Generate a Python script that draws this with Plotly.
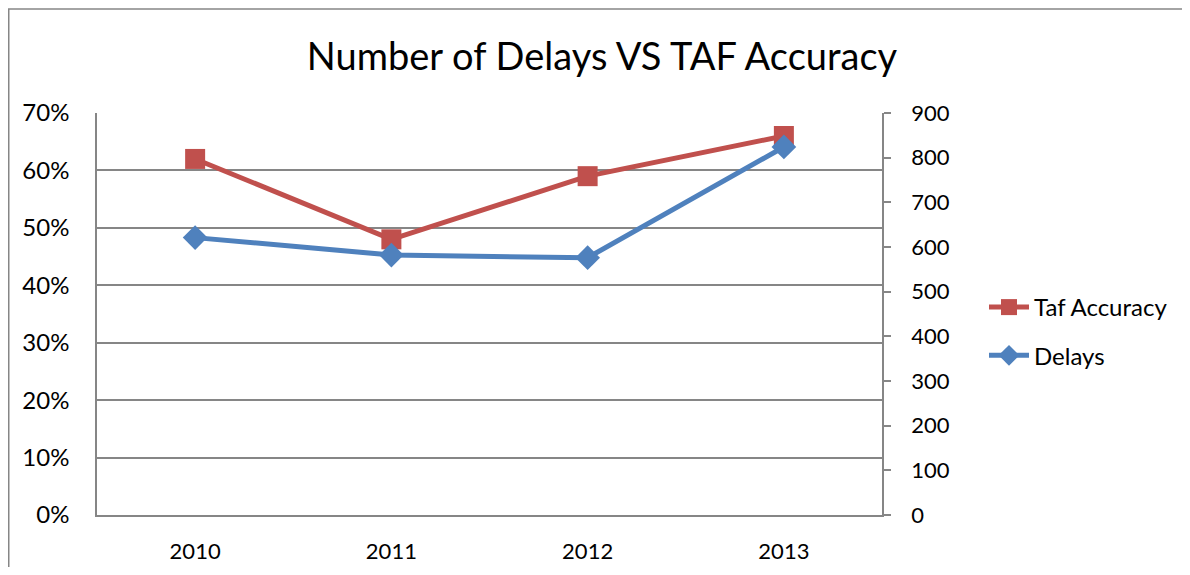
import plotly.graph_objects as go

years = ["2010", "2011", "2012", "2013"]
taf_accuracy = [0.62, 0.48, 0.59, 0.66]
delays = [621, 582, 576, 824]

title_text = "Number of Delays VS TAF Accuracy"
series_names = ["Taf Accuracy", "Delays"]

RED = "#C0504D"
BLUE = "#4F81BD"
GRAY = "#868686"
FONT = "Lato, 'Open Sans', sans-serif"

# the page body adds an 8px margin; figure coordinates below are page minus 8
W, H = 1174, 559
L, R, T, B = 89, 300, 105, 52
pw, ph = W - L - R, H - T - B

fig = go.Figure()
fig.add_trace(go.Scatter(
    x=years, y=taf_accuracy, name=series_names[0], mode="lines+markers",
    line=dict(color=RED, width=5),
    marker=dict(symbol="square", size=20, color=RED),
    yaxis="y", legendgroup="a",
))
fig.add_trace(go.Scatter(
    x=years, y=delays, name=series_names[1], mode="lines+markers",
    line=dict(color=BLUE, width=5),
    marker=dict(symbol="diamond", size=19, color=BLUE),
    yaxis="y2", legendgroup="b",
))

def px_x(px):
    return (px - L) / pw

def px_y(py):
    return (H - B - py) / ph

fig.update_layout(
    width=W, height=H,
    margin=dict(l=L, r=R, t=T, b=B, autoexpand=False),
    paper_bgcolor="white", plot_bgcolor="white",
    font=dict(family=FONT, size=22, color="black"),
    title=dict(text=title_text, font=dict(size=38, family=FONT, color="black"),
               x=594 / W, xref="container", xanchor="center",
               y=1 - 49 / H, yref="container", yanchor="middle"),
    xaxis=dict(type="category", range=[-0.5, 3.5], showgrid=False,
               showline=True, linecolor=GRAY, linewidth=1.5,
               ticks="", ticklabelstandoff=16, zeroline=False),
    yaxis=dict(range=[0, 0.7], dtick=0.1, tickformat=".0%",
               tickfont=dict(size=24),
               showgrid=True, gridcolor=GRAY, gridwidth=1.5,
               showline=True, linecolor=GRAY, linewidth=1.5,
               ticks="", ticklabelstandoff=21, zeroline=False),
    yaxis2=dict(range=[0, 900], dtick=100, overlaying="y", side="right",
                showgrid=False, showline=True, linecolor=GRAY, linewidth=1.5,
                ticks="outside", ticklen=7, tickcolor=GRAY, tickwidth=1.5,
                ticklabelstandoff=16, zeroline=False),
    legend=dict(x=px_x(976), xanchor="left", y=px_y(277), yanchor="top",
                tracegroupgap=14, font=dict(size=24), bgcolor="rgba(0,0,0,0)",
                itemwidth=40),
    showlegend=True,
    shapes=[
        dict(type="line", xref="paper", yref="paper",
             x0=px_x(0), x1=px_x(W), y0=px_y(1), y1=px_y(1),
             line=dict(color=GRAY, width=1.5)),
        dict(type="line", xref="paper", yref="paper",
             x0=px_x(0.75), x1=px_x(0.75), y0=px_y(1), y1=px_y(H),
             line=dict(color=GRAY, width=1.5)),
    ],
)

fig.write_html("out.html")
